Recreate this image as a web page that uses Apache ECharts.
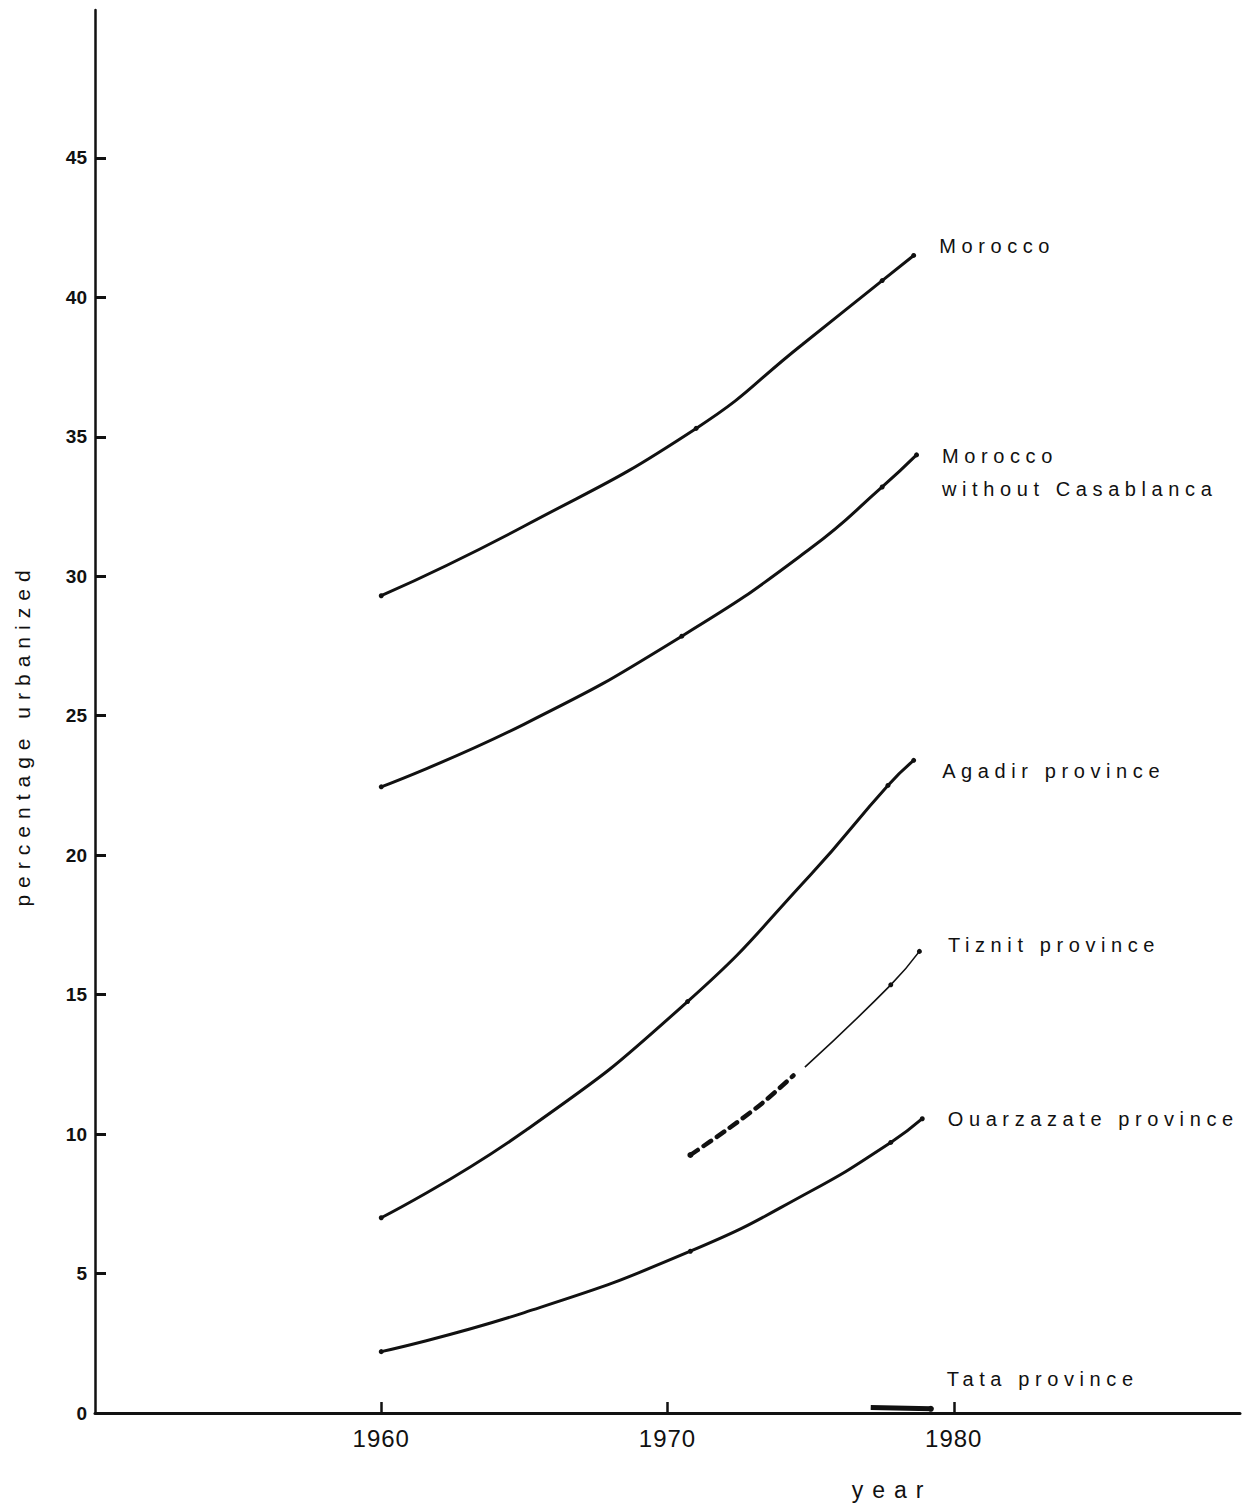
<!DOCTYPE html>
<html>
<head>
<meta charset="utf-8">
<script src="https://cdn.jsdelivr.net/npm/echarts@6/dist/echarts.min.js"></script>
<style>
html, body { margin: 0; padding: 0; background: #fff; }
#chart { width: 1243px; height: 1503px; }
</style>
</head>
<body>
<div id="chart"></div>
<script>
// tick labels
const xTicks = [1960, 1970, 1980];
const yTicks = [0, 5, 10, 15, 20, 25, 30, 35, 40, 45];

// [year, percentage urbanized]
const morocco = [[1960, 29.3], [1965, 31.8], [1971, 35.3], [1974.7, 38.3], [1977.5, 40.6], [1978.6, 41.5]];
const moroccoNoCasa = [[1960, 22.45], [1965, 24.7], [1970.5, 27.85], [1975, 31.0], [1977.5, 33.2], [1978.7, 34.35]];
const agadir = [[1960, 7.0], [1965, 10.1], [1970.7, 14.75], [1975, 19.3], [1977.7, 22.5], [1978.6, 23.4]];
const tiznitEarly = [[1970.8, 9.25], [1972, 10.1], [1973.3, 11.1], [1974.4, 12.1]];
const tiznitLate = [[1974.8, 12.4], [1977.8, 15.35], [1978.8, 16.55]];
const ouarzazate = [[1960, 2.2], [1965, 3.6], [1970.8, 5.8], [1975, 7.95], [1977.8, 9.7], [1978.9, 10.55]];
const tata = [[1977.1, 0.2], [1979.2, 0.15]];

const names = {
  morocco: 'Morocco',
  noCasa: 'Morocco\nwithout Casablanca',
  agadir: 'Agadir province',
  tiznit: 'Tiznit province',
  ouarzazate: 'Ouarzazate province',
  tata: 'Tata province'
};

// readings between the drawn dots, no dot on them
const noDot = [1965, 1974.7, 1975];

const ink = '#111';
const font = 'Liberation Sans, Arial, sans-serif';

function curve(pts, name, off, opts) {
  opts = opts || {};
  const data = pts.map(function (p, i) {
    const item = { value: p };
    if (i === pts.length - 1 && name) {
      item.label = {
        show: true,
        formatter: name,
        position: 'right',
        distance: 0,
        align: 'left',
        verticalAlign: 'middle',
        offset: off,
        color: ink,
        fontFamily: font,
        fontSize: 20,
        lineHeight: 33
      };
    }
    return item;
  });
  return {
    type: 'line',
    data: data,
    smooth: opts.smooth == null ? 0.5 : opts.smooth,
    showSymbol: true,
    symbol: 'circle',
    symbolSize: opts.symbolSize || function (v) {
      return noDot.indexOf(v[0]) >= 0 ? 0 : 5;
    },
    itemStyle: { color: ink },
    lineStyle: Object.assign({ color: ink, width: 3 }, opts.line || {}),
    emphasis: { disabled: true },
    z: 3
  };
}

const chart = echarts.init(document.getElementById('chart'), null, { renderer: 'svg' });

const option = {
  backgroundColor: '#fff',
  animation: false,
  grid: { left: 95, right: 3, top: 10, bottom: 90 },
  xAxis: {
    type: 'value',
    min: 1950,
    max: 1990,
    interval: 10,
    splitLine: { show: false },
    axisLine: { lineStyle: { color: ink, width: 3 } },
    axisTick: { inside: true, length: 11, customValues: xTicks, lineStyle: { color: ink, width: 2.5 } },
    axisLabel: {
      customValues: xTicks, margin: 13, color: ink, fontFamily: font, fontSize: 24,
      formatter: function (v) { return String(v); }
    }
  },
  yAxis: {
    type: 'value',
    min: 0,
    max: 50.3,
    interval: 5,
    splitLine: { show: false },
    axisLine: { show: true, lineStyle: { color: ink, width: 2.5 } },
    axisTick: { show: true, inside: true, length: 11, customValues: yTicks, lineStyle: { color: ink, width: 3 } },
    axisLabel: { customValues: yTicks, margin: 8, color: ink, fontFamily: font, fontSize: 19, fontWeight: 'bold' }
  },
  graphic: [
    {
      type: 'text', x: 892, y: 1490,
      style: { text: 'year', fill: ink, font: '23px ' + font, textAlign: 'center', textVerticalAlign: 'middle' }
    },
    {
      type: 'text', x: 22, y: 735, rotation: Math.PI / 2,
      style: { text: 'percentage urbanized', fill: ink, font: '21px ' + font, textAlign: 'center', textVerticalAlign: 'middle' }
    }
  ],
  series: [
    curve(morocco, names.morocco, [23, -9]),
    curve(moroccoNoCasa, names.noCasa, [23, 18]),
    curve(agadir, names.agadir, [26, 11]),
    curve(tiznitEarly, null, null, {
      smooth: 0.3,
      symbolSize: function (v) { return v[0] === tiznitEarly[0][0] ? 6 : 0; },
      line: { width: 4.5, type: [9, 7], cap: 'round' }
    }),
    curve(tiznitLate, names.tiznit, [26, -6], {
      symbolSize: function (v) { return v[0] === tiznitLate[0][0] ? 0 : 5; },
      line: { width: 1.6 }
    }),
    curve(ouarzazate, names.ouarzazate, [23, 0]),
    curve(tata, names.tata, [13, -30], {
      smooth: 0,
      symbolSize: function (v) { return v[0] === tata[1][0] ? 6 : 0; },
      line: { width: 5 }
    })
  ]
};

chart.setOption(option);

// the typed labels are set wide, add letter spacing to the svg text
function spaceText() {
  document.querySelectorAll('#chart svg text').forEach(function (t) {
    const s = t.textContent;
    let ls = 0;
    if (s === 'year') ls = 9;
    else if (s === 'percentage urbanized') ls = 7;
    else if (/[a-z]/i.test(s)) ls = 5.6;
    else if (/^19/.test(s)) ls = 1;
    if (ls) t.setAttribute('letter-spacing', ls);
  });
}
chart.on('finished', spaceText);
setTimeout(spaceText, 50);
setTimeout(spaceText, 300);
</script>
</body>
</html>
